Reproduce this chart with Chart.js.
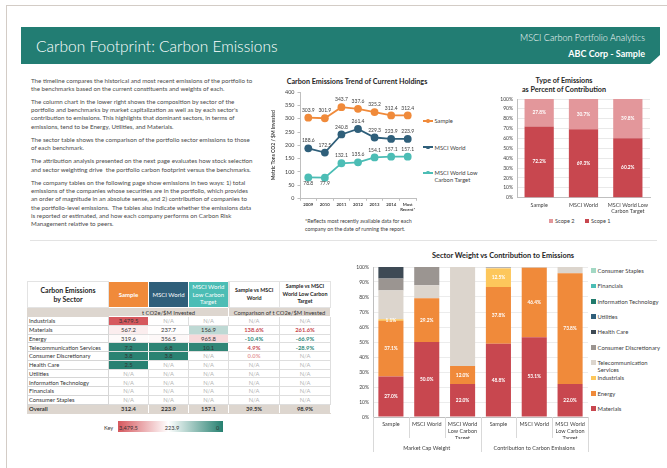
<!DOCTYPE html>
<html><head><meta charset="utf-8">
<script src="https://cdn.jsdelivr.net/npm/chart.js@4.4.1/dist/chart.umd.min.js"></script>
<style>
html,body{margin:0;padding:0;background:#fff;}
body{width:667px;height:468px;position:relative;overflow:hidden;font-family:Lato,"Open Sans",sans-serif;color:#404040;}
.abs{position:absolute;}
#frame{left:6px;top:5px;width:700px;height:500px;border-top:1px solid #d3ccc6;border-left:1px solid #d3ccc6;}
#hdr{left:21px;top:27px;width:639px;height:37px;background:#227d73;clip-path:polygon(0 0,100% 0,100% calc(100% - 9px),calc(100% - 10px) 100%,0 100%);}
#hdrTitle{left:36px;top:36px;font-size:15.5px;font-weight:300;color:#fff;line-height:20px;white-space:nowrap;}
#hdrR1{right:22px;top:32px;font-size:9px;font-weight:300;color:#fff;line-height:12px;white-space:nowrap;}
#hdrR2{right:22px;top:48px;font-size:9px;color:#fff;font-weight:bold;line-height:12px;white-space:nowrap;}
#intro{left:31px;top:76.5px;font-size:6.2px;line-height:8.3px;color:#4a4a4a;white-space:nowrap;}
#intro p{margin:0 0 4.8px 0;}
#sep{left:30px;top:240px;width:627px;height:1px;background:#e3e3e3;}
.ttl{font-weight:bold;color:#262626;text-align:center;white-space:nowrap;}
#foot{left:305px;top:218px;font-size:5.3px;line-height:7.7px;color:#404040;white-space:nowrap;}
.lg{font-size:5.8px;color:#404040;white-space:nowrap;line-height:7.4px;}
table{border-collapse:collapse;table-layout:fixed;font-size:5.8px;color:#333;}
td{padding:0;border:1px solid #dedede;text-align:center;overflow:hidden;white-space:nowrap;line-height:7px;}
td.nm{text-align:left;padding-left:1px;}
td.na{color:#b3b3b3;}
</style></head>
<body>
<div id="frame" class="abs"></div>
<div id="hdr" class="abs"></div>
<div id="hdrTitle" class="abs">Carbon Footprint: Carbon Emissions</div>
<div id="hdrR1" class="abs">MSCI Carbon Portfolio Analytics</div>
<div id="hdrR2" class="abs">ABC Corp - Sample</div>

<div id="intro" class="abs">
<p>The timeline compares the historical and most recent emissions of the portfolio to<br>the benchmarks based on the current constituents and weights of each.</p>
<p>The column chart in the lower right shows the composition by sector of the<br>portfolio and benchmarks by market capitalization as well as by each sector's<br>contribution to emissions. This highlights that dominant sectors, in terms of<br>emissions, tend to be Energy, Utilities, and Materials.</p>
<p>The sector table shows the comparison of the portfolio sector emissions to those<br>of each benchmark.</p>
<p>The attribution analysis presented on the next page evaluates how stock selection<br>and sector weighting drive&nbsp; the portfolio carbon footprint versus the benchmarks.</p>
<p>The company tables on the following page show emissions in two ways: 1) total<br>emissions of the companies whose securities are in the portfolio, which provides<br>an order of magnitude in an absolute sense, and 2) contribution of companies to<br>the portfolio-level emissions.&nbsp; The tables also indicate whether the emissions data<br>is reported or estimated, and how each company performs on Carbon Risk<br>Management relative to peers.</p>
</div>
<div id="sep" class="abs"></div>

<div class="abs ttl" style="left:257px;top:77px;width:200px;font-size:7.2px;line-height:9px;">Carbon Emissions Trend of Current Holdings</div>
<div class="abs" style="left:268px;top:86px;width:152px;height:126px;"><canvas id="lineChart" width="152" height="126"></canvas></div>
<div id="lineLegend"></div>
<div id="foot" class="abs">*Reflects most recently available data for each<br>company on the date of running the report.</div>

<div class="abs ttl" style="left:464px;top:75.5px;width:200px;font-size:7.2px;line-height:9px;">Type of Emissions<br>as Percent of Contribution</div>
<div class="abs" style="left:480px;top:92px;width:187px;height:125px;"><canvas id="scopeChart" width="187" height="125"></canvas></div>
<div id="scopeLegend"></div>

<div class="abs ttl" style="left:403px;top:250.5px;width:200px;font-size:7.4px;line-height:9px;">Sector Weight vs Contribution to Emissions</div>
<div class="abs" style="left:335px;top:260px;width:255px;height:200px;"><canvas id="sectorChart" width="255" height="200"></canvas></div>
<div id="sectorLegend"></div>

<div id="tableWrap" class="abs" style="left:27px;top:281px;"></div>
<div id="keyWrap"></div>

<script>
// ---------- DATA ----------
const trendYears = ['2009','2010','2011','2012','2013','2014',['Most','Recent*']];
const trendSample = [303.9,301.9,343.7,337.6,325.2,312.4,312.4];
const trendWorld = [188.6,172.5,240.8,261.4,229.3,223.9,223.9];
const trendLowCarbon = [78.8,77.9,132.1,135.6,154.1,157.1,157.1];
const trendSeriesNames = ['Sample','MSCI World',['MSCI World Low','Carbon Target']];

const scopeCategories = ['Sample','MSCI World',['MSCI World Low','Carbon Target']];
const scope1 = [72.2,69.3,60.2];
const scope2 = [27.8,30.7,39.8];
const scopeNames = ['Scope 1','Scope 2'];

const sectorCategories = ['Sample','MSCI World',['MSCI World','Low Carbon','Target'],'Sample','MSCI World',['MSCI World','Low Carbon','Target']];
const sectorGroups = ['Market Cap Weight','Contribution to Carbon Emissions'];
const sectorNames = ['Materials','Energy','Industrials',['Telecommunication','Services'],'Consumer Discretionary','Health Care','Utilities','Information Technology','Financials','Consumer Staples'];
const wMaterials   = [27.0,50.0,22.0,48.8,53.1,22.0];
const wEnergy      = [37.1,29.2,12.0,37.8,46.4,73.8];
const wIndustrials = [1.1,0,0,12.5,0,0];
const wTelecom     = [19.2,8.6,66.0,0.4,0.3,4.2];
const wConsDisc    = [7.9,12.2,0,0.3,0.2,0];
const wHealthCare  = [7.7,0,0,0.2,0,0];
const wUtilities   = [0,0,0,0,0,0];
const wInfoTech    = [0,0,0,0,0,0];
const wFinancials  = [0,0,0,0,0,0];
const wConsStaples = [0,0,0,0,0,0];

const tableSectors = ['Industrials','Materials','Energy','Telecommunication Services','Consumer Discretionary','Health Care','Utilities','Information Technology','Financials','Consumer Staples'];
const tableSample    = [3479.5,567.2,319.6,7.2,3.8,2.5,null,null,null,null];
const tableWorld     = [null,237.7,356.5,6.8,3.8,null,null,null,null,null];
const tableLowCarbon = [null,156.9,965.8,10.1,null,null,null,null,null,null];
const tableVsWorld   = [null,138.6,-10.4,4.9,0.0,null,null,null,null,null];
const tableVsLow     = [null,261.6,-66.9,-28.9,null,null,null,null,null,null];
const overallValues  = [312.4,223.9,157.1];
const overallCompare = [39.5,98.9];
const heatMax = 3479.5, heatMid = 223.9, heatMin = 0;

// ---------- STYLE ----------
Chart.defaults.font.family = 'Lato, "Open Sans", sans-serif';
Chart.defaults.color = '#404040';
const cOrange = '#f08a3a', cBlue = '#2f5f7a', cTeal = '#4cbdb5';
const sectorColors = ['#c8474f','#f08a3a','#fdc75b','#dcd5cd','#9b9591','#3e4a55','#2f5f7a','#217a6c','#4cbdb5','#a3d8c4'];

// ---------- LINE CHART ----------
const lineLabelPlugin = {
  id:'lineLabels',
  afterDatasetsDraw(chart){
    const ctx = chart.ctx; ctx.save();
    ctx.font = '5px Lato'; ctx.fillStyle = '#404040'; ctx.textAlign = 'center';
    chart.data.datasets.forEach((ds,di)=>{
      chart.getDatasetMeta(di).data.forEach((pt,i)=>{
        const below = ds.labelBelow && ds.labelBelow[i];
        ctx.textBaseline = below ? 'top' : 'bottom';
        ctx.fillText(ds.data[i].toFixed(1), pt.x, below ? pt.y + 3.5 : pt.y - 5);
      });
    });
    ctx.restore();
  }
};
function lineDs(label, data, color, below){
  return {label, data, borderColor:color, backgroundColor:color, pointBackgroundColor:color,
    pointBorderColor:color, borderWidth:1.8, pointRadius:3.9, pointBorderWidth:0, tension:0, labelBelow:below};
}
new Chart(document.getElementById('lineChart'), {
  type:'line',
  data:{labels:trendYears, datasets:[
    lineDs('Sample', trendSample, cOrange),
    lineDs('MSCI World', trendWorld, cBlue),
    lineDs('MSCI World Low Carbon Target', trendLowCarbon, cTeal, [true,true,false,false,false,false,false])
  ]},
  options:{responsive:false, devicePixelRatio:1, animation:false,
    layout:{padding:{top:4.7,right:2.3,left:0,bottom:0}},
    plugins:{legend:{display:false}, tooltip:{enabled:false}},
    scales:{
      x:{offset:true, grid:{offset:true, drawOnChartArea:false, tickLength:2.5, color:'#bfbfbf'}, border:{color:'#bfbfbf'},
        ticks:{font:{size:4.3, weight:'bold'}, color:'#404040', padding:1.5, maxRotation:0, autoSkip:false},
        afterFit(s){ s.height = 13.7; }},
      y:{min:0, max:400, grid:{drawOnChartArea:false, tickLength:2.5, color:'#bfbfbf'}, border:{color:'#bfbfbf'},
        ticks:{stepSize:50, font:{size:5.4}, color:'#404040', padding:3},
        title:{display:true, text:'Metric Tons CO2 / $M Invested', font:{size:5, weight:'bold'}, color:'#404040', padding:{top:2,bottom:0}},
        afterFit(s){ s.width = 32; }}
    }},
  plugins:[lineLabelPlugin]
});
(function(){
  const host = document.getElementById('lineLegend');
  const cols = [cOrange,cBlue,cTeal];
  const ys = [121,147.3,176.4];
  trendSeriesNames.forEach((n,i)=>{
    const lines = Array.isArray(n) ? n : [n];
    const d = document.createElement('div');
    d.className = 'abs lg';
    d.style.left = '434.5px';
    d.style.top = (ys[i] - lines.length*7.4/2) + 'px';
    d.innerHTML = lines.join('<br>');
    host.appendChild(d);
    const yLine = lines.length > 1 ? ys[i] - 3.7 : ys[i];
    const ln = document.createElement('div');
    ln.className = 'abs';
    ln.style.cssText = `left:423px;top:${yLine-0.9}px;width:10px;height:1.8px;background:${cols[i]};`;
    host.appendChild(ln);
    const dot = document.createElement('div');
    dot.className = 'abs';
    dot.style.cssText = `left:426.2px;top:${yLine-1.8}px;width:3.6px;height:3.6px;border-radius:50%;background:${cols[i]};`;
    host.appendChild(dot);
  });
})();

// ---------- BAR LABEL PLUGIN ----------
const barLabelPlugin = {
  id:'barLabels',
  afterDatasetsDraw(chart){
    const ctx = chart.ctx; ctx.save();
    ctx.font = 'bold 4.8px Lato'; ctx.fillStyle = '#ffffff'; ctx.textAlign = 'center'; ctx.textBaseline = 'middle';
    chart.data.datasets.forEach((ds,di)=>{
      if(!ds.showLabels) return;
      chart.getDatasetMeta(di).data.forEach((el,i)=>{
        const v = ds.data[i];
        if(!v) return;
        ctx.fillText(v.toFixed(1)+'%', el.x, (el.y + el.base)/2);
      });
    });
    ctx.restore();
  }
};

// ---------- SCOPE CHART ----------
new Chart(document.getElementById('scopeChart'), {
  type:'bar',
  data:{labels:scopeCategories, datasets:[
    {label:scopeNames[0], data:scope1, backgroundColor:'#c8474f', showLabels:true, barPercentage:0.66, categoryPercentage:1},
    {label:scopeNames[1], data:scope2, backgroundColor:'#e3979b', showLabels:true, barPercentage:0.66, categoryPercentage:1}
  ]},
  options:{responsive:false, devicePixelRatio:1, animation:false,
    layout:{padding:{top:4,right:17,left:0,bottom:0}},
    plugins:{legend:{display:false}, tooltip:{enabled:false}},
    scales:{
      x:{stacked:true, grid:{display:false, drawTicks:false}, border:{color:'#bfbfbf'},
        ticks:{font:{size:5.4}, color:'#404040', padding:4, maxRotation:0, autoSkip:false},
        afterFit(s){ s.height = 19.3; }},
      y:{stacked:true, min:0, max:100, grid:{color:'#e9e9e9', drawTicks:false}, border:{color:'#bfbfbf'},
        ticks:{stepSize:10, font:{size:5}, color:'#404040', padding:4, callback:v=>v+'%'},
        afterFit(s){ s.width = 37; }}
    }},
  plugins:[barLabelPlugin]
});
(function(){
  const host = document.getElementById('scopeLegend');
  const items = [[scopeNames[1],'#e3979b',549],[scopeNames[0],'#c8474f',585]];
  items.forEach(([n,c,x])=>{
    const sq = document.createElement('div'); sq.className='abs';
    sq.style.cssText = `left:${x}px;top:218.7px;width:4px;height:4px;background:${c};`;
    host.appendChild(sq);
    const t = document.createElement('div'); t.className='abs lg';
    t.style.cssText = `left:${x+6}px;top:217px;font-size:5.6px;`;
    t.textContent = n; host.appendChild(t);
  });
})();

// ---------- SECTOR CHART ----------
const sectorSeries = [wMaterials,wEnergy,wIndustrials,wTelecom,wConsDisc,wHealthCare,wUtilities,wInfoTech,wFinancials,wConsStaples];
const sectorSepPlugin = {
  id:'sectorSep',
  afterDraw(chart){
    const x = chart.scales.x, ctx = chart.ctx, b = chart.chartArea.bottom;
    const n = chart.data.labels.length;
    const half = (x.getPixelForTick(1) - x.getPixelForTick(0))/2;
    ctx.save(); ctx.strokeStyle = '#d9d9d9'; ctx.lineWidth = 1;
    for(let i=0;i<=n;i++){
      const px = Math.round(i < n ? x.getPixelForTick(i) - half : x.getPixelForTick(n-1) + half) + 0.5;
      const len = (i % 3 === 0) ? 35 : 21;
      ctx.beginPath(); ctx.moveTo(px, b); ctx.lineTo(px, b + len); ctx.stroke();
    }
    ctx.restore();
  }
};
new Chart(document.getElementById('sectorChart'), {
  type:'bar',
  data:{labels:sectorCategories, datasets: sectorSeries.map((d,i)=>({
    label: Array.isArray(sectorNames[i]) ? sectorNames[i].join(' ') : sectorNames[i],
    data:d, backgroundColor:sectorColors[i], showLabels: i < 3, barPercentage:0.7, categoryPercentage:1
  }))},
  options:{responsive:false, devicePixelRatio:1, animation:false,
    layout:{padding:{top:4.3,right:2,left:0,bottom:0}},
    plugins:{legend:{display:false}, tooltip:{enabled:false}},
    scales:{
      x:{stacked:true, grid:{display:false, drawTicks:false}, border:{color:'#bfbfbf'},
        ticks:{font:{size:5.5, lineHeight:1.27}, color:'#404040', padding:4, maxRotation:0, autoSkip:false},
        afterFit(s){ s.height = 22; }},
      x2:{type:'category', labels:sectorGroups, offset:true, position:'bottom', grid:{display:false, drawTicks:false}, border:{display:false},
        ticks:{font:{size:5.5}, color:'#404040', padding:6, maxRotation:0, autoSkip:false},
        afterFit(s){ s.height = 21; }},
      y:{stacked:true, min:0, max:100, grid:{color:'#ececec', drawTicks:false}, border:{color:'#bfbfbf'},
        ticks:{stepSize:10, font:{size:5}, color:'#404040', padding:4, callback:v=>v+'%'},
        afterFit(s){ s.width = 38; }}
    }},
  plugins:[barLabelPlugin, sectorSepPlugin]
});
(function(){
  const host = document.getElementById('sectorLegend');
  const ys = [408.3,393.3,378,366,347.3,332,316.7,301.3,286,270.7];
  sectorNames.forEach((n,i)=>{
    const lines = Array.isArray(n) ? n : [n];
    const sqY = lines.length > 1 ? ys[i] - 3.7 : ys[i];
    const sq = document.createElement('div'); sq.className='abs';
    sq.style.cssText = `left:591px;top:${sqY-2.3}px;width:4.6px;height:4.6px;background:${sectorColors[i]};`;
    host.appendChild(sq);
    const t = document.createElement('div'); t.className='abs lg';
    t.style.cssText = `left:597.5px;top:${ys[i]-lines.length*7.4/2}px;font-size:5.9px;`;
    t.innerHTML = lines.join('<br>'); host.appendChild(t);
  });
})();

// ---------- TABLE ----------
function heatColor(v){
  if(v == null) return '#ffffff';
  const red=[214,88,94], teal=[38,128,112];
  let c, t;
  if(v >= heatMid){ t = Math.min(1,(v-heatMid)/(heatMax-heatMid)); c = red; }
  else { t = (heatMid-v)/(heatMid-heatMin); c = teal; }
  const m = k => Math.round(255 + (c[k]-255)*t);
  return `rgb(${m(0)},${m(1)},${m(2)})`;
}
const fmt = v => v.toLocaleString('en-US',{minimumFractionDigits:1,maximumFractionDigits:1});
function cmpColor(v){ return v > 0 ? '#c8474f' : (v < 0 ? '#2e8a7a' : '#e59ca0'); }
(function(){
  const W = [81,40,40,40,51,51];
  let h = '<table style="width:303px;">';
  h += '<colgroup>' + W.map(w=>`<col style="width:${w}px">`).join('') + '</colgroup>';
  h += '<tr style="height:26px;">' +
    '<td style="font-weight:bold;font-size:7px;line-height:9px;color:#262626;border-color:#e3e3e3;">Carbon Emissions<br>by Sector</td>' +
    `<td style="background:${cOrange};color:#fff;font-weight:bold;font-size:6px;border-color:#fff;">Sample</td>` +
    `<td style="background:${cBlue};color:#fff;font-size:6px;border-color:#fff;">MSCI World</td>` +
    `<td style="background:${cTeal};color:#fff;font-size:6px;line-height:7.6px;border-color:#fff;">MSCI World<br>Low Carbon<br>Target</td>` +
    '<td style="font-weight:bold;font-size:5.4px;line-height:7.6px;color:#262626;border-left:2px solid #fff;border-color:#e3e3e3;">Sample vs MSCI<br>World</td>' +
    '<td style="font-weight:bold;font-size:5.4px;line-height:7.6px;color:#262626;border-color:#e3e3e3;">Sample vs MSCI<br>World Low Carbon<br>Target</td></tr>';
  h += '<tr style="height:9px;background:#ddd6cf;">' +
    '<td style="border-color:#ddd6cf;"></td>' +
    '<td colspan="3" style="border-color:#fff;border-top-color:#ddd6cf;">t CO2e/$M Invested</td>' +
    '<td colspan="2" style="border-color:#fff;border-top-color:#ddd6cf;">Comparison of t CO2e/$M Invested</td></tr>';
  tableSectors.forEach((s,i)=>{
    h += '<tr style="height:8.75px;">';
    h += `<td class="nm" style="border-color:#d6d6d6;">${s}</td>`;
    [tableSample[i],tableWorld[i],tableLowCarbon[i]].forEach(v=>{
      if(v == null) h += '<td class="na">N/A</td>';
      else h += `<td style="background:${heatColor(v)};border-left-color:#fff;border-right-color:#fff;">${fmt(v)}</td>`;
    });
    [tableVsWorld[i],tableVsLow[i]].forEach(v=>{
      if(v == null) h += '<td class="na">N/A</td>';
      else h += `<td style="color:${cmpColor(v)};font-weight:bold;">${fmt(v)}%</td>`;
    });
    h += '</tr>';
  });
  h += '<tr style="height:9px;background:#ddd6cf;font-weight:bold;">' +
    '<td class="nm" style="border-color:#ddd6cf;">Overall</td>' +
    overallValues.map(v=>`<td style="border-color:#fff;border-bottom-color:#ddd6cf;">${fmt(v)}</td>`).join('') +
    overallCompare.map(v=>`<td style="border-color:#fff;border-bottom-color:#ddd6cf;">${fmt(v)}%</td>`).join('') + '</tr>';
  h += '</table>';
  document.getElementById('tableWrap').innerHTML = h;

  const key = document.getElementById('keyWrap');
  key.innerHTML =
    '<div class="abs" style="left:104px;top:423.5px;font-size:5.6px;color:#404040;">Key</div>' +
    `<div class="abs" style="left:118px;top:421px;width:105px;height:11px;background:linear-gradient(to right, ${heatColor(heatMax)} 0%, #ffffff 48%, ${heatColor(heatMin)} 100%);"></div>` +
    `<div class="abs" style="left:119px;top:423.5px;font-size:5.6px;color:#333;">${fmt(heatMax)}</div>` +
    `<div class="abs" style="left:161px;top:423.5px;width:22px;text-align:center;font-size:5.6px;color:#333;">${fmt(heatMid)}</div>` +
    `<div class="abs" style="left:216px;top:423.5px;font-size:5.6px;color:#333;">${heatMin}</div>`;
})();
</script>
</body></html>
